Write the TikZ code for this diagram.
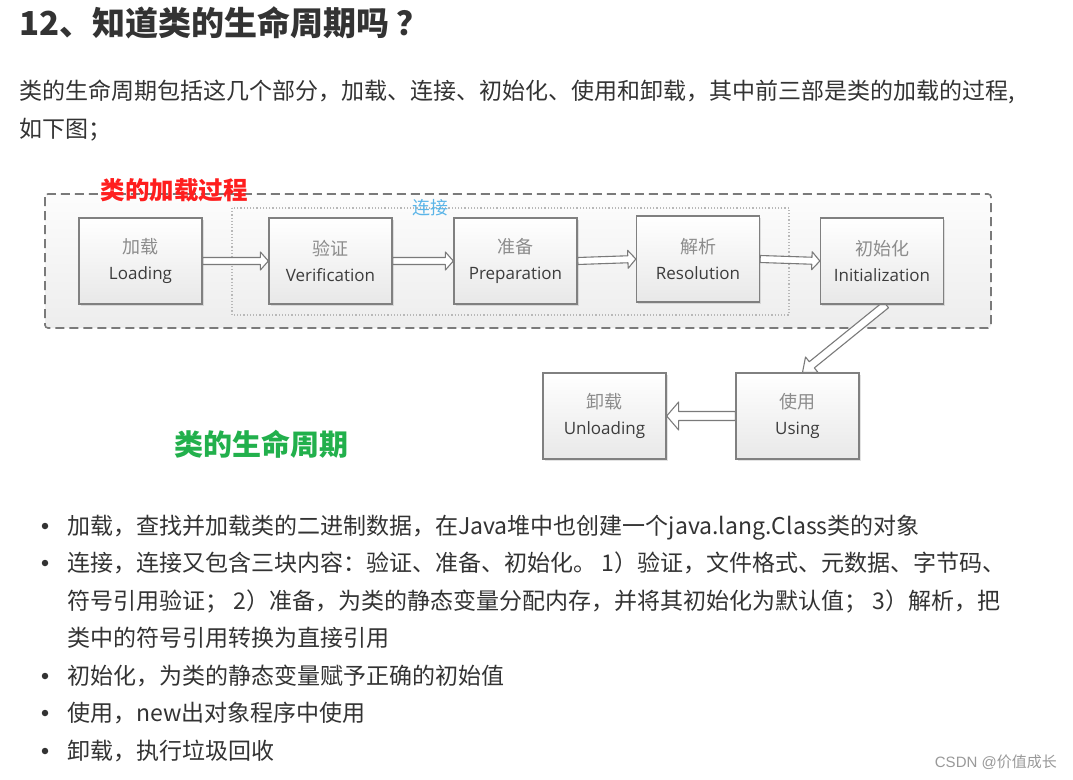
\documentclass[tikz,border=0pt]{standalone}
\usepackage{fontspec}
\setmainfont{Noto Sans CJK SC}
\newfontfamily\boxlat{Open Sans}
\newfontfamily\csdnlat{Liberation Sans}
\usetikzlibrary{calc,shadows}
\definecolor{bodyc}{HTML}{333333}
\definecolor{boxline}{HTML}{808080}
\definecolor{cjkgray}{HTML}{8C8C8C}
\definecolor{latgray}{HTML}{3C3C3C}
\definecolor{redlab}{HTML}{FF1E1E}
\definecolor{bluelab}{HTML}{5BB5E8}
\definecolor{greenlab}{HTML}{22B04C}
\definecolor{arrline}{HTML}{7A7A7A}
\pgfdeclarelayer{bg}
\pgfdeclarelayer{mid}
\pgfsetlayers{bg,mid,main}
\tikzset{
  hollow/.style args={#1/#2/#3}{to path={
    ($(\tikztostart)!#1!90:(\tikztotarget)$)
    -- ($($(\tikztotarget)!#3!(\tikztostart)$)!#1!90:(\tikztotarget)$)
    -- ($($(\tikztotarget)!#3!(\tikztostart)$)!#2!90:(\tikztotarget)$)
    -- (\tikztotarget)
    -- ($($(\tikztotarget)!#3!(\tikztostart)$)!#2!-90:(\tikztotarget)$)
    -- ($($(\tikztotarget)!#3!(\tikztostart)$)!#1!-90:(\tikztotarget)$)
    -- ($(\tikztostart)!#1!-90:(\tikztotarget)$)
    -- cycle}},
  arr/.style={draw=arrline, fill=white, line width=1.1pt, line join=round},
  stagebox/.style={draw=boxline, line width=1.3pt, top color=white, bottom color=black!9,
    minimum width=123pt, minimum height=86pt, inner sep=0pt, align=center,
    font=\fontsize{17}{26}\selectfont,
    drop shadow={shadow xshift=1.5pt, shadow yshift=-1.5pt, opacity=0.22}},
  bodytext/.style={anchor=base west, inner sep=0pt, text=bodyc, font=\fontsize{23}{28}\selectfont},
  bulletdot/.style={circle, fill=bodyc, inner sep=0pt, minimum size=6.5pt},
}
\newcommand{\stg}[2]{{\color{cjkgray}\fontsize{18}{26}\selectfont #1}\\{\boxlat\color{latgray}\fontsize{17}{26}\selectfont #2}}
\begin{document}
\begin{tikzpicture}[x=1pt,y=-1pt]
\useasboundingbox (0,0) rectangle (1073,779);
\begin{pgfonlayer}{bg}
\fill[white] (0,0) rectangle (1073,779);
\end{pgfonlayer}

% title and paragraph
\node[anchor=base west, inner sep=0pt, text=bodyc, font=\fontsize{33}{36}\selectfont\bfseries] (title) at (19,35) {12、知道类的生命周期吗\hspace{7pt}？};
\node[bodytext] (p1) at (19,99) {类的生命周期包括这几个部分，加载、连接、初始化、使用和卸载，其中前三部是类的加载的过程,};
\node[bodytext] (p2) at (19,137) {如下图；};

% frames
\begin{pgfonlayer}{bg}
\draw[draw=arrline, line width=1.6pt, dash pattern=on 9pt off 5pt, rounded corners=3pt,
  top color=black!1, bottom color=black!7] (45,194) rectangle (991,328);
\draw[draw=black!28, line width=1.2pt, dotted] (232,208) rectangle (789,315);
\end{pgfonlayer}

% stage boxes
\node[stagebox] (load)   at (140.5,261) {\stg{加载}{Loading}};
\node[stagebox] (verif)  at (330.5,261) {\stg{验证}{Verification}};
\node[stagebox] (prep)   at (515.5,261) {\stg{准备}{Preparation}};
\node[stagebox] (resol)  at (698,259)   {\stg{解析}{Resolution}};
\node[stagebox] (init)   at (882,261)   {\stg{初始化}{Initialization}};
\node[stagebox] (unload) at (604.5,416) {\stg{卸载}{Unloading}};
\node[stagebox] (using)  at (797.5,416) {\stg{使用}{Using}};

% labels
\node[inner sep=0pt, text=redlab, font=\fontsize{24.5}{26}\selectfont\bfseries] (redl) at (174,190) {类的加载过程};
\node[inner sep=0pt, text=bluelab, font=\fontsize{18}{20}\selectfont] (bluel) at (430,208) {连接};
\node[inner sep=0pt, text=greenlab, font=\fontsize{29}{31}\selectfont\bfseries] (greenl) at (261,444) {类的生命周期};

% arrows
\begin{pgfonlayer}{mid}
\draw[arr] (load.east) to[hollow=3.5pt/9pt/8pt] (verif.west);
\draw[arr] (verif.east) to[hollow=3.5pt/9pt/8pt] (prep.west);
\draw[arr] (prep.east) to[hollow=3.5pt/9pt/8pt] (resol.west);
\draw[arr] (resol.east) to[hollow=3.5pt/9pt/8pt] (init.west);
\draw[arr] ([xshift=4pt]init.south) to[hollow=4pt/10pt/12pt] ([xshift=5pt]using.north);
\draw[arr] (using.west) to[hollow=4.5pt/14pt/12pt] (unload.east);
\end{pgfonlayer}

% bullet list
\node[bulletdot] (b1) at (45,526) {};
\node[bodytext] (t1) at (67,534.5) {加载，查找并加载类的二进制数据，在Java堆中也创建一个java.lang.Class类的对象};
\node[bulletdot] (b2) at (45,563) {};
\node[bodytext] (t2) at (67,571.5) {连接，连接又包含三块内容：验证、准备、初始化。 1）验证，文件格式、元数据、字节码、};
\node[bodytext] (t3) at (67,609.5) {符号引用验证； 2）准备，为类的静态变量分配内存，并将其初始化为默认值； 3）解析，把};
\node[bodytext] (t4) at (67,646.5) {类中的符号引用转换为直接引用};
\node[bulletdot] (b5) at (45,676) {};
\node[bodytext] (t5) at (67,684.5) {初始化，为类的静态变量赋予正确的初始值};
\node[bulletdot] (b6) at (45,713) {};
\node[bodytext] (t6) at (67,721.5) {使用，new出对象程序中使用};
\node[bulletdot] (b7) at (45,751) {};
\node[bodytext] (t7) at (67,759.5) {卸载，执行垃圾回收};

% footer
\node[anchor=base east, inner sep=0pt, text=black!40, font=\fontsize{15}{17}\selectfont] (csdn) at (1057,767) {{\csdnlat CSDN @}价值成长};
\end{tikzpicture}
\end{document}
